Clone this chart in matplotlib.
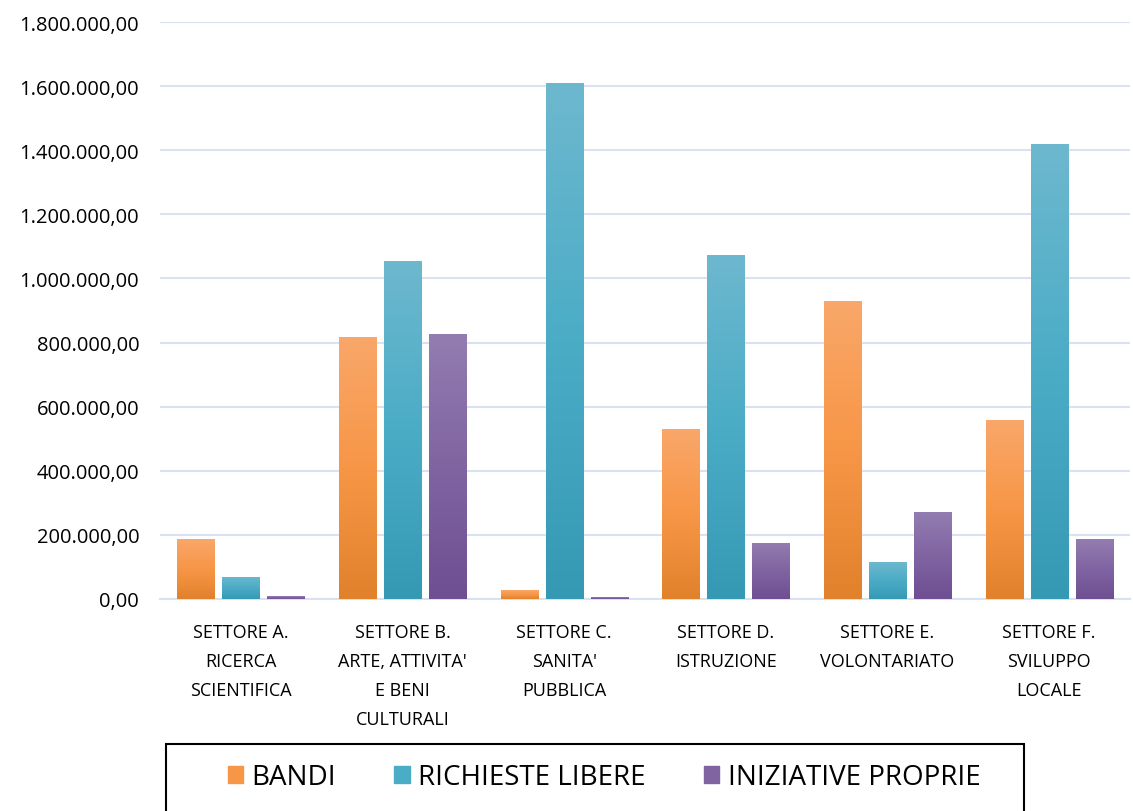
import numpy as np
import matplotlib
matplotlib.use("Agg")
from matplotlib import pyplot as plt
from matplotlib.colors import LinearSegmentedColormap
from matplotlib.patches import Rectangle

# dati
categorie = ["SETTORE A.\nRICERCA\nSCIENTIFICA",
             "SETTORE B.\nARTE, ATTIVITA'\nE BENI\nCULTURALI",
             "SETTORE C.\nSANITA'\nPUBBLICA",
             "SETTORE D.\nISTRUZIONE",
             "SETTORE E.\nVOLONTARIATO",
             "SETTORE F.\nSVILUPPO\nLOCALE"]
bandi = [187000, 817000, 28000, 530000, 929000, 558000]
richieste = [69000, 1054000, 1609000, 1073000, 115000, 1419000]
iniziative = [9000, 826000, 6000, 175000, 271000, 187000]
serie_nomi = ["BANDI", "RICHIESTE LIBERE", "INIZIATIVE PROPRIE"]

# gradienti (alto, centro, basso)
grad = [["#F9A76A", "#F79646", "#E2812C"],
        ["#6DB8CF", "#4BACC6", "#3699B4"],
        ["#937DB0", "#8064A2", "#6E4F92"]]

plt.rcParams['font.family'] = ['Open Sans', 'DejaVu Sans']

fig = plt.figure(figsize=(11.33, 8.12), dpi=100)
ax = fig.add_axes([160/1133, 1-600/812, (1130-160)/1133, (600-23)/812])

x = np.arange(len(categorie))
w = 0.23
off = 0.278
tutte = [bandi, richieste, iniziative]
for k, vals in enumerate(tutte):
    bars = ax.bar(x + (k-1)*off, vals, w, color=grad[k][1], zorder=2,
                  label=serie_nomi[k])
    cmap = LinearSegmentedColormap.from_list("g%d" % k, grad[k][::-1])
    for b in bars:
        x0 = b.get_x()
        im = ax.imshow(np.linspace(0, 1, 256).reshape(-1, 1), cmap=cmap,
                       origin='lower', aspect='auto', zorder=3,
                       extent=[x0, x0 + b.get_width(), 0, b.get_height()])
        im.set_clip_path(b)
        b.set_alpha(0)

ax.set_xlim(-0.5, len(categorie)-0.5)
ax.set_ylim(0, 1800000)
ax.set_yticks(np.arange(0, 1800001, 200000))
ax.set_yticklabels(["{:,.2f}".format(v).replace(",", "X").replace(".", ",").replace("X", ".")
                    for v in np.arange(0, 1800001, 200000)], fontsize=14.5)
ax.set_xticks(x)
ax.set_xticklabels(categorie, fontsize=13, linespacing=1.8, va='top')
ax.tick_params(length=0, pad=15)
ax.tick_params(axis='x', pad=17)
ax.grid(axis='y', color="#D9E2F1", linewidth=1.5, zorder=0)
ax.set_axisbelow(True)
for s in ["top", "right", "left"]:
    ax.spines[s].set_visible(False)
ax.spines["bottom"].set_color("#D9E2F1")
ax.spines["bottom"].set_linewidth(1.5)

# legenda
fig.patches.append(Rectangle((166/1133, -0.02), (1024-166)/1133, 0.02+(812-745)/812,
                             transform=fig.transFigure, fill=False,
                             edgecolor="black", linewidth=1.5))
handles = [Rectangle((0, 0), 1, 1, color=grad[k][1]) for k in range(3)]
fig.legend(handles, serie_nomi, loc='center', bbox_to_anchor=(604/1133, 1-778/812),
           ncol=3, frameon=False, fontsize=20, handlelength=0.55, handleheight=0.55,
           handletextpad=0.3, columnspacing=2.1)

plt.savefig("out.png", dpi=100)
